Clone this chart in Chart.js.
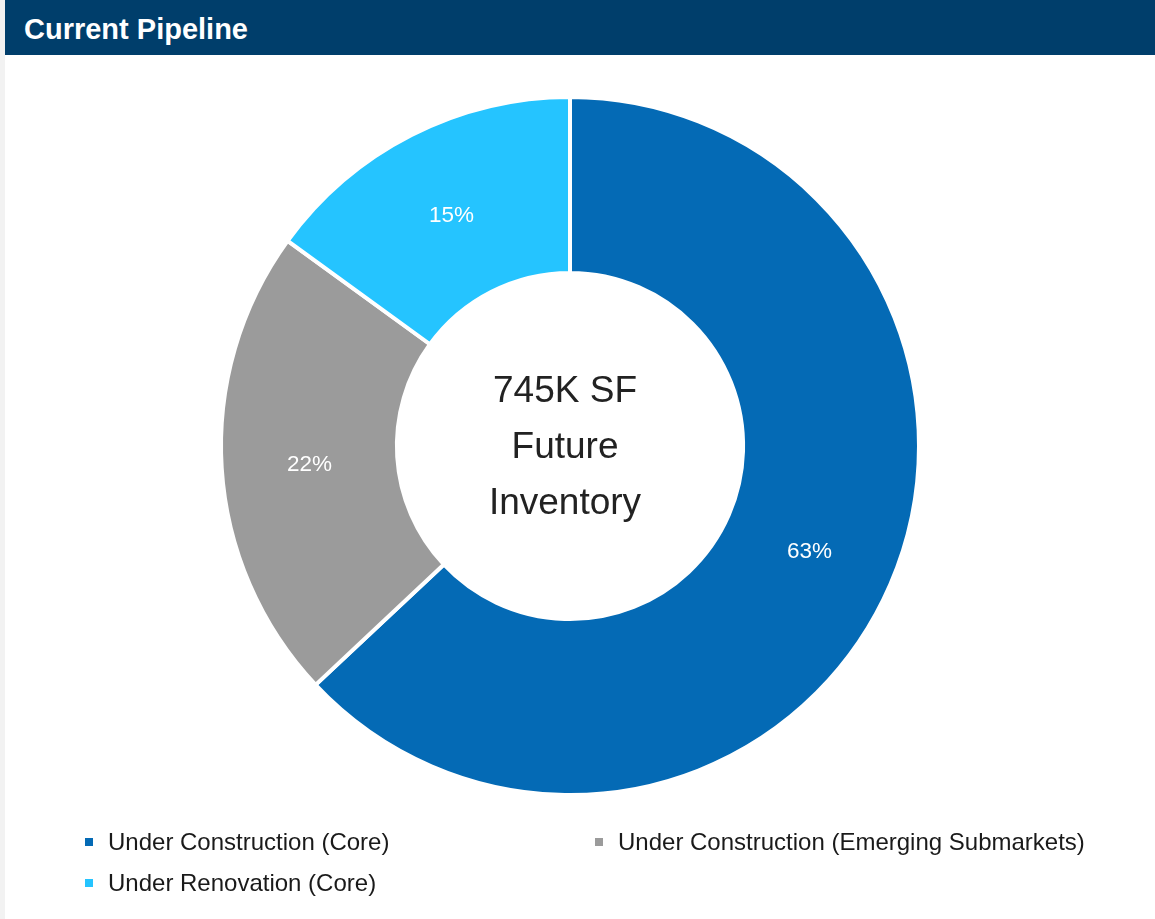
<!DOCTYPE html>
<html>
<head>
<meta charset="utf-8">
<title>Current Pipeline</title>
<script src="https://cdn.jsdelivr.net/npm/chart.js@4.4.1/dist/chart.umd.min.js"></script>
<style>
  html, body { margin: 0; padding: 0; }
  body {
    width: 1155px; height: 919px; overflow: hidden;
    background: #f2f2f2;
    font-family: Arial, "Liberation Sans", sans-serif;
  }
  .panel {
    position: absolute; left: 5px; top: 0; width: 1150px; height: 919px;
    background: #ffffff;
  }
  .header {
    position: absolute; left: 0; top: 0; width: 1150px; height: 55px;
    background: #003e6b; color: #ffffff;
    font-weight: bold; font-size: 29px; line-height: 58px;
    padding-left: 19px; box-sizing: border-box;
  }
  .chart-box {
    position: absolute; left: -10px; top: 55px; width: 1150px; height: 782px;
  }
  .legend {
    position: absolute; left: 80px; top: 826px;
    display: grid; grid-template-columns: 510px 500px; row-gap: 9px;
  }
  .legend-item {
    display: flex; align-items: center; height: 32px;
    font-size: 24px; color: #1a1a1a; white-space: nowrap;
  }
  .legend-item .box {
    width: 8px; height: 8px; margin: 0 15px 0 0; flex: none;
  }
</style>
</head>
<body>
<div class="panel">
  <div class="header">Current Pipeline</div>
  <div class="chart-box"><canvas id="pipelineChart" width="1150" height="782"></canvas></div>
  <div class="legend" id="legend"></div>
</div>

<script>
const categories = [
  'Under Construction (Core)',
  'Under Construction (Emerging Submarkets)',
  'Under Renovation (Core)'
];
const shares = [63, 22, 15];
const sliceColors = ['#046ab5', '#9b9b9b', '#25c4ff'];
const centerLines = ['745K SF', 'Future', 'Inventory'];

const FONT = 'Arial, "Liberation Sans", sans-serif';

// percent labels inside each slice
const sliceLabels = {
  id: 'sliceLabels',
  afterDatasetsDraw(chart) {
    const { ctx } = chart;
    const meta = chart.getDatasetMeta(0);
    const values = chart.data.datasets[0].data;
    const total = values.reduce((a, b) => a + b, 0);
    ctx.save();
    ctx.font = '22.5px ' + FONT;
    ctx.fillStyle = '#ffffff';
    ctx.textAlign = 'center';
    ctx.textBaseline = 'middle';
    meta.data.forEach((arc, i) => {
      const pos = arc.tooltipPosition();
      ctx.fillText(Math.round(values[i] / total * 100) + '%', pos.x, pos.y + 2);
    });
    ctx.restore();
  }
};

// text in the doughnut hole
const centerText = {
  id: 'centerText',
  afterDraw(chart) {
    const { ctx } = chart;
    const arc = chart.getDatasetMeta(0).data[0];
    const cx = arc.x - 5, cy = arc.y;
    ctx.save();
    ctx.font = '37px ' + FONT;
    ctx.fillStyle = '#222222';
    ctx.textAlign = 'center';
    ctx.textBaseline = 'middle';
    const gap = 56;
    centerLines.forEach((line, i) => {
      ctx.fillText(line, cx, cy + (i - 1) * gap + 2);
    });
    ctx.restore();
  }
};

const pipelineChart = new Chart(document.getElementById('pipelineChart'), {
  type: 'doughnut',
  data: {
    labels: categories,
    datasets: [{
      data: shares,
      backgroundColor: sliceColors,
      borderColor: '#ffffff',
      borderWidth: 4,
      hoverOffset: 0
    }]
  },
  options: {
    responsive: false,
    animation: false,
    radius: 349,
    cutout: '49.6%',
    layout: { padding: 0 },
    plugins: {
      legend: { display: false },
      tooltip: { enabled: false }
    }
  },
  plugins: [sliceLabels, centerText]
});

// legend laid out in two columns under the chart
const legendEl = document.getElementById('legend');
categories.forEach((name, i) => {
  const item = document.createElement('div');
  item.className = 'legend-item';
  const box = document.createElement('span');
  box.className = 'box';
  box.style.background = sliceColors[i];
  item.appendChild(box);
  item.appendChild(document.createTextNode(name));
  legendEl.appendChild(item);
});
</script>
</body>
</html>
